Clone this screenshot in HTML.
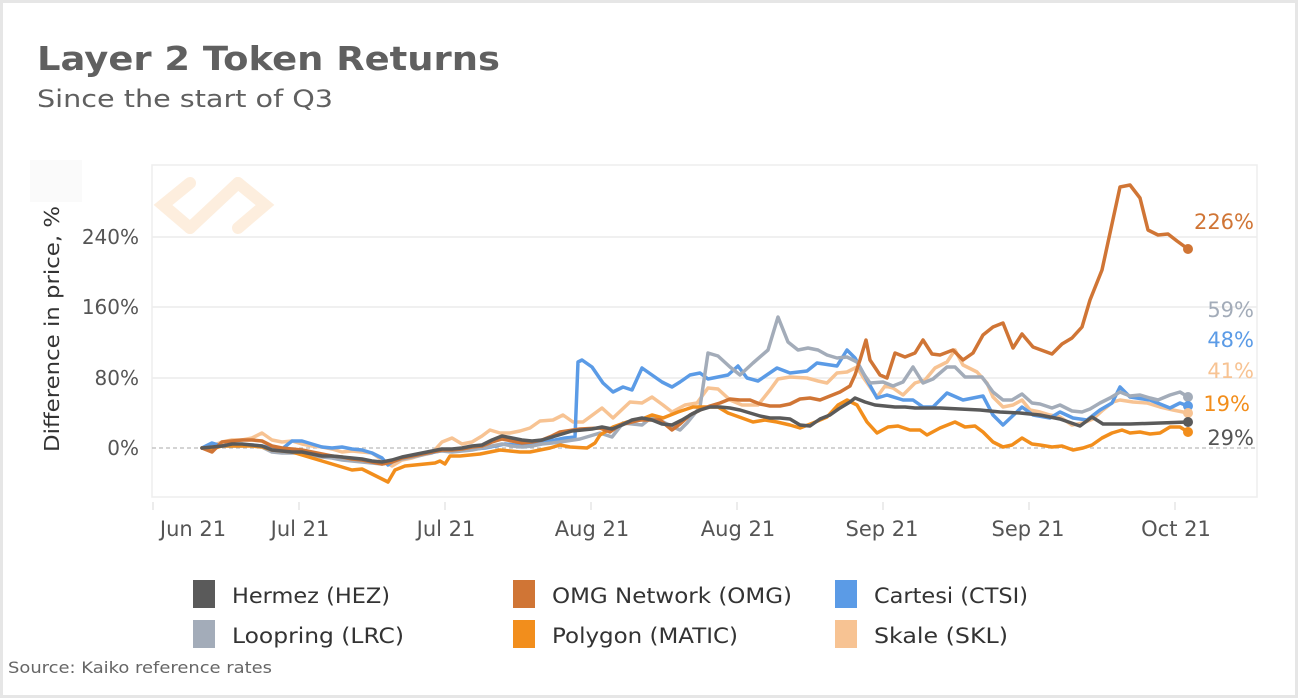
<!DOCTYPE html>
<html><head><meta charset="utf-8"><style>
body{margin:0;background:#fff;}
svg{display:block;font-family:"DejaVu Sans","Liberation Sans",sans-serif;}
</style></head><body>
<svg width="1298" height="698" viewBox="0 0 1298 698" xmlns="http://www.w3.org/2000/svg">
<rect x="1.5" y="1.5" width="1295" height="695" fill="#fff" stroke="#e6e6e6" stroke-width="3"/>
<text x="37" y="70" font-size="33" font-weight="bold" fill="#606060" textLength="463" lengthAdjust="spacingAndGlyphs">Layer 2 Token Returns</text>
<text x="37" y="107" font-size="24" fill="#606060" textLength="296" lengthAdjust="spacingAndGlyphs">Since the start of Q3</text>
<rect x="30" y="160" width="52" height="42" fill="#fafafa"/>
<g stroke="#fdeede" stroke-width="12" fill="none" stroke-linecap="round">
<path d="M190 183 L163 205 L190 228"/><path d="M238 183 L265 205 L238 228"/><path d="M190 228 L238 183"/>
</g>
<rect x="152" y="165" width="1105" height="332" fill="none" stroke="#eeeeee" stroke-width="1.5"/>
<g stroke="#ececec" stroke-width="1.5">
<line x1="152" y1="237" x2="1257" y2="237"/><line x1="152" y1="307" x2="1257" y2="307"/><line x1="152" y1="378" x2="1257" y2="378"/>
</g>
<line x1="152" y1="448" x2="1257" y2="448" stroke="#bbb" stroke-width="1.2" stroke-dasharray="4,3"/>
<g stroke="#e6e6e6" stroke-width="1.5">
<line x1="153" y1="502" x2="153" y2="510"/><line x1="299" y1="502" x2="299" y2="510"/><line x1="445" y1="502" x2="445" y2="510"/><line x1="591" y1="502" x2="591" y2="510"/><line x1="737" y1="502" x2="737" y2="510"/><line x1="883" y1="502" x2="883" y2="510"/><line x1="1029" y1="502" x2="1029" y2="510"/><line x1="1175" y1="502" x2="1175" y2="510"/>
</g>
<g font-size="21" fill="#555" text-anchor="middle">
<text x="193" y="536">Jun 21</text><text x="300" y="536">Jul 21</text><text x="446" y="536">Jul 21</text><text x="592" y="536">Aug 21</text><text x="738" y="536">Aug 21</text><text x="882" y="536">Sep 21</text><text x="1028" y="536">Sep 21</text><text x="1176" y="536">Oct 21</text>
</g>
<g font-size="20" fill="#555" text-anchor="end">
<text x="139" y="244">240%</text><text x="139" y="314">160%</text><text x="139" y="385">80%</text><text x="139" y="455">0%</text>
</g>
<text transform="translate(59,329) rotate(-90)" font-size="20" fill="#333" text-anchor="middle" textLength="246" lengthAdjust="spacingAndGlyphs">Difference in price, %</text>
<g fill="none" stroke-width="3.5" stroke-linejoin="round" stroke-linecap="round">
<polyline stroke="#f7c393" points="202,448 212,446 222,442 232,440 242,440 252,438 262,433 272,440 282,442 292,441 302,444 312,446 322,447 332,449 342,452 352,451 362,452 372,453 382,460 392,466 402,460 412,458 422,455 432,453 442,442 452,438 462,444 472,442 482,436 490,430 500,433 510,433 520,431 530,428 540,421 553,420 563,415 573,422 583,422 602,408 613,418 630,402 642,403 652,397 663,405 672,412 685,405 697,403 708,388 718,389 730,400 742,405 758,405 770,390 778,379 790,377 807,378 818,381 827,383 837,373 847,372 857,367 863,377 877,397 885,386 893,388 903,395 915,383 925,380 935,368 947,362 955,350 963,365 977,372 987,383 993,397 1003,407 1013,405 1022,400 1030,410 1040,412 1050,415 1060,417 1072,425 1083,423 1093,419 1103,410 1113,402 1120,400 1133,402 1147,403 1160,407 1173,410 1188,413"/>
<polyline stroke="#5b9be6" points="202,448 212,443 222,446 232,446 242,446 252,445 262,446 272,448 282,449 292,441 302,441 312,444 322,447 332,448 342,447 352,449 362,450 372,453 382,458 388,465 395,460 405,458 415,456 425,454 435,452 445,450 455,451 465,450 475,449 485,448 495,446 505,444 515,445 525,444 535,443 545,441 555,440 565,438 575,437 578,362 582,360 592,367 603,383 613,392 623,387 632,390 642,368 652,375 662,382 672,387 680,382 690,375 700,373 708,379 728,375 738,366 747,378 758,381 777,368 790,373 807,371 817,363 837,366 847,350 855,358 867,380 877,398 887,395 903,400 913,400 923,407 933,407 947,393 963,400 983,396 993,415 1003,425 1022,407 1033,415 1050,418 1060,412 1073,418 1087,420 1100,410 1112,403 1120,387 1130,397 1150,400 1170,408 1180,403 1188,406"/>
<polyline stroke="#a3acb9" points="202,448 212,447 222,446 232,445 242,445 252,446 262,447 272,452 282,453 292,453 302,453 312,455 322,457 332,458 342,460 352,461 362,462 372,463 382,464 392,462 402,459 412,457 422,455 432,452 442,451 452,452 462,451 472,450 482,448 492,446 502,444 512,446 522,447 532,446 542,444 552,443 560,442 580,439 600,433 612,437 623,423 642,425 652,417 663,422 673,427 680,430 687,423 700,407 708,353 718,356 730,367 740,375 753,363 768,350 778,317 788,342 798,350 808,348 818,350 827,355 837,358 847,357 857,362 863,373 870,383 883,382 893,386 903,382 913,367 923,383 933,379 947,367 955,367 965,377 982,377 993,392 1003,400 1012,400 1022,394 1032,403 1040,404 1052,408 1060,405 1072,411 1082,412 1090,409 1100,403 1110,398 1120,392 1130,396 1140,395 1150,398 1158,400 1170,395 1180,392 1188,397"/>
<polyline stroke="#f28e1c" points="202,448 212,449 222,446 232,446 242,446 252,446 262,447 272,450 282,451 292,452 302,455 312,458 322,461 332,464 342,467 352,470 362,469 372,474 382,479 388,482 395,470 405,466 415,465 425,464 435,463 440,461 445,464 450,456 460,456 470,455 480,454 490,452 500,450 510,451 520,452 530,452 540,450 550,448 560,445 570,447 587,448 595,443 600,435 613,427 627,422 640,420 652,415 663,418 678,412 693,407 708,407 718,407 728,413 742,418 753,422 765,420 777,422 790,425 800,428 813,423 827,417 838,405 847,400 857,405 867,422 877,433 888,427 898,426 910,430 920,430 927,435 940,428 955,422 965,427 975,426 983,432 993,442 1003,447 1012,445 1022,438 1032,444 1040,445 1052,447 1062,446 1073,450 1083,448 1092,445 1102,438 1112,433 1122,430 1130,433 1140,432 1150,434 1160,433 1170,427 1180,427 1188,432"/>
<polyline stroke="#d07535" points="202,448 212,452 222,442 232,441 242,440 252,440 262,441 272,446 282,448 292,449 302,450 312,452 322,454 332,456 342,457 352,459 362,460 372,462 382,464 392,462 402,458 412,456 422,454 432,452 442,450 452,450 462,449 472,447 482,446 492,442 502,439 512,441 522,443 532,442 542,440 552,436 560,432 580,429 600,428 610,432 620,425 640,420 660,420 672,430 680,424 690,415 700,410 710,406 720,403 730,399 740,400 750,400 760,404 770,406 780,406 790,404 800,399 810,398 820,400 830,396 840,392 850,386 855,375 860,360 866,340 870,360 880,375 887,378 895,353 905,357 915,353 923,340 932,354 940,355 953,350 963,360 973,353 983,335 993,327 1003,323 1013,348 1022,334 1033,347 1052,354 1062,344 1072,338 1082,327 1090,300 1102,270 1120,187 1130,185 1140,198 1148,230 1158,235 1168,234 1177,241 1188,249"/>
<polyline stroke="#5a5a5a" points="202,448 212,447 222,446 232,444 242,444 252,445 262,446 272,450 282,451 292,452 302,452 312,454 322,456 332,456 342,457 352,458 362,459 372,461 382,462 392,460 402,457 412,455 422,453 432,451 442,449 452,449 462,448 472,446 482,445 492,440 502,436 512,438 522,440 532,441 542,440 552,437 562,434 572,431 582,430 592,429 602,427 612,429 622,425 632,420 642,418 652,420 662,424 672,425 682,420 692,414 700,410 710,407 720,407 730,408 740,410 750,413 760,416 770,418 780,418 790,419 800,425 810,426 820,419 830,415 840,408 850,402 855,398 865,402 875,405 885,406 895,407 905,407 915,408 925,408 940,408 960,409 980,410 1000,412 1020,413 1040,415 1060,419 1080,426 1092,417 1103,424 1130,424 1160,423 1188,422"/>
</g>
<circle cx="1188" cy="249" r="5" fill="#d07535"/><circle cx="1188" cy="397" r="5" fill="#a3acb9"/><circle cx="1188" cy="406" r="5" fill="#5b9be6"/><circle cx="1188" cy="413" r="5" fill="#f7c393"/><circle cx="1188" cy="432" r="5" fill="#f28e1c"/><circle cx="1188" cy="422" r="5" fill="#5a5a5a"/>
<g font-size="21" text-anchor="end">
<text x="1254" y="229" fill="#d07535">226%</text>
<text x="1254" y="317" fill="#a3acb9">59%</text>
<text x="1254" y="347" fill="#5b9be6">48%</text>
<text x="1254" y="378" fill="#f7c393">41%</text>
<text x="1250" y="411" fill="#f28e1c">19%</text>
<text x="1254" y="445" fill="#555">29%</text>
</g>
<g font-size="21" fill="#333" lengthAdjust="spacingAndGlyphs">
<rect x="193" y="580" width="22" height="28" fill="#5a5a5a"/><text x="232" y="603" textLength="158" lengthAdjust="spacingAndGlyphs">Hermez (HEZ)</text>
<rect x="513" y="580" width="22" height="28" fill="#d07535"/><text x="552" y="603" textLength="240" lengthAdjust="spacingAndGlyphs">OMG Network (OMG)</text>
<rect x="835" y="580" width="22" height="28" fill="#5b9be6"/><text x="874" y="603" textLength="154" lengthAdjust="spacingAndGlyphs">Cartesi (CTSI)</text>
<rect x="193" y="620" width="22" height="28" fill="#a3acb9"/><text x="232" y="643" textLength="172" lengthAdjust="spacingAndGlyphs">Loopring (LRC)</text>
<rect x="513" y="620" width="22" height="28" fill="#f28e1c"/><text x="552" y="643" textLength="186" lengthAdjust="spacingAndGlyphs">Polygon (MATIC)</text>
<rect x="835" y="620" width="22" height="28" fill="#f7c393"/><text x="874" y="643" textLength="134" lengthAdjust="spacingAndGlyphs">Skale (SKL)</text>
</g>
<text x="8" y="673" font-size="16" fill="#666" textLength="264" lengthAdjust="spacingAndGlyphs">Source: Kaiko reference rates</text>
</svg>
</body></html>
